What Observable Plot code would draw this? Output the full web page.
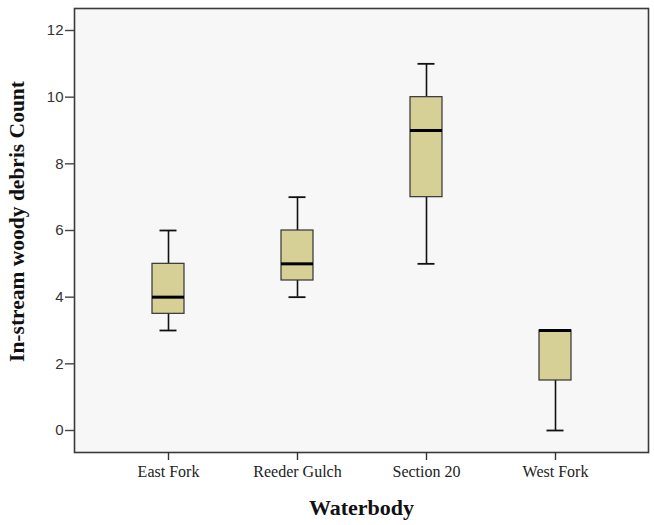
<!DOCTYPE html>
<html>
<head>
<meta charset="utf-8">
<script src="https://cdn.jsdelivr.net/npm/d3@7"></script>
<script src="https://cdn.jsdelivr.net/npm/@observablehq/plot@0.6"></script>
<style>
  html, body { margin: 0; padding: 0; background: #ffffff; }
</style>
</head>
<body>
<div id="chart"></div>
<script>
const categories = ["East Fork", "Reeder Gulch", "Section 20", "West Fork"];
const minValues    = [3, 4, 5, 0];
const q1Values     = [3.5, 4.5, 7, 1.5];
const medianValues = [4, 5, 9, 3];
const q3Values     = [5, 6, 10, 3];
const maxValues    = [6, 7, 11, 3];
const yTicks = [0, 2, 4, 6, 8, 10, 12];

const data = categories.map((c, i) => ({
  cat: c, min: minValues[i], q1: q1Values[i], median: medianValues[i], q3: q3Values[i], max: maxValues[i]
}));

const boxFill = "#d6cf96";
const serif = "'Liberation Serif', 'Times New Roman', serif";
const sans = "'Liberation Sans', Arial, sans-serif";

const chart = Plot.plot({
  width: 654,
  height: 525,
  marginLeft: 74,
  marginRight: 6,
  marginTop: 8,
  marginBottom: 73,
  style: { background: "#ffffff", color: "#333" },
  x: { type: "band", domain: categories, paddingInner: 0.753, paddingOuter: 0.593, label: null },
  y: { domain: [-0.66, 12.66], label: null },
  marks: [
    Plot.frame({ fill: "#f7f7f7", stroke: null }),
    Plot.ruleX(data, { x: "cat", y1: "min", y2: "q1", stroke: "#111", strokeWidth: 1.6 }),
    Plot.ruleX(data, { x: "cat", y1: "q3", y2: "max", stroke: "#111", strokeWidth: 1.6 }),
    Plot.tickY(data, { x: "cat", y: "min", stroke: "#111", strokeWidth: 1.8, insetLeft: 7.5, insetRight: 7.5 }),
    Plot.tickY(data, { x: "cat", y: "max", stroke: "#111", strokeWidth: 1.8, insetLeft: 7.5, insetRight: 7.5 }),
    Plot.barY(data, { x: "cat", y1: "q1", y2: "q3", fill: boxFill, stroke: "#333", strokeWidth: 1.2 }),
    Plot.tickY(data, { x: "cat", y: "median", stroke: "#000", strokeWidth: 3 }),
    Plot.frame({ stroke: "#3a3a3a", strokeWidth: 1.6 }),
    Plot.axisY({ ticks: yTicks, tickSize: 9, tickPadding: 2, fontSize: 15, fontFamily: sans, stroke: "#444", strokeWidth: 1.4, fill: "#333", label: null }),
    Plot.axisX({ tickSize: 8, tickPadding: 5, fontSize: 16, fontFamily: serif, stroke: "#333", strokeWidth: 1.4, fill: "#222", label: null }),
    Plot.text(["In-stream woody debris Count"], { frameAnchor: "left", textAnchor: "middle", lineAnchor: "middle", rotate: -90, dx: -57, dy: -9, fontSize: 21.5, fontWeight: "bold", fontFamily: serif, fill: "#111" }),
    Plot.text(["Waterbody"], { frameAnchor: "bottom", lineAnchor: "middle", dy: 55, fontSize: 22, fontWeight: "bold", fontFamily: serif, fill: "#111" })
  ]
});
document.getElementById("chart").appendChild(chart);
</script>
</body>
</html>
